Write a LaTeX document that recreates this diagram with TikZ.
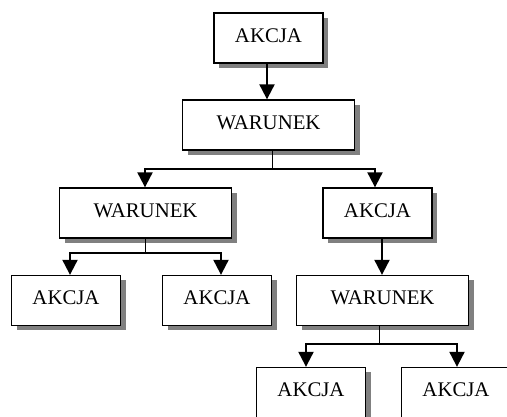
\documentclass[tikz,border=0pt]{standalone}
\usepackage{fontspec}
\setmainfont{Liberation Serif}
\usetikzlibrary{arrows.meta,shadows}
\begin{document}
\begin{tikzpicture}[x=1pt,y=-1pt,
  box/.style={draw=black,line width=1.3pt,fill=white,rectangle,inner sep=0pt,
    minimum height=50pt,text height=14pt,text depth=5pt,
    font=\fontsize{20.8pt}{24pt}\selectfont,
    drop shadow={shadow xshift=5pt,shadow yshift=-5pt,fill=black!50,opacity=1}},
  akcja/.style={box,minimum width=109pt},
  warunek/.style={box,minimum width=172pt},
  arr/.style={line width=2pt,-{Triangle[width=15pt,length=15pt]}},
  stem/.style={line width=1pt}]
\useasboundingbox (0,0) rectangle (507,417);
\clip (0,0) rectangle (507,417);
\node[akcja]   (A1) at (268.5,38) {AKCJA};
\node[warunek] (W1) at (268.5,125) {WARUNEK};
\node[warunek] (W2) at (145.5,213) {WARUNEK};
\node[akcja]   (A2) at (377.5,213) {AKCJA};
\node[akcja]   (A3) at (66,300.5) {AKCJA};
\node[akcja]   (A4) at (217,300.5) {AKCJA};
\node[warunek] (W3) at (382.5,300.5) {WARUNEK};
\node[akcja]   (A5) at (311,392.5) {AKCJA};
\node[akcja]   (A6) at (456,392.5) {AKCJA};
\coordinate (b1) at (272,169);
\coordinate (b2) at (145,253);
\coordinate (b3) at (379,344);
% connectors
\draw[arr] ([xshift=-1.5pt]A1.south) -- ([xshift=-1.5pt]W1.north);
\draw[stem] (W1.south -| b1) -- (b1);
\draw[arr] (b1) -| ([xshift=-0.5pt]W2.north);
\draw[arr] (b1) -| ([xshift=-2.5pt]A2.north);
\draw[stem] (W2.south -| b2) -- (b2);
\draw[arr] (b2) -| ([xshift=4pt]A3.north);
\draw[arr] (b2) -| ([xshift=4pt]A4.north);
\draw[arr] ([xshift=4.5pt]A2.south) -- ([xshift=4.5pt]A2.south |- W3.north);
\draw[stem] (W3.south -| b3) -- (b3);
\draw[arr] (b3) -| ([xshift=-5pt]A5.north);
\draw[arr] (b3) -| ([xshift=1pt]A6.north);
\end{tikzpicture}
\end{document}
